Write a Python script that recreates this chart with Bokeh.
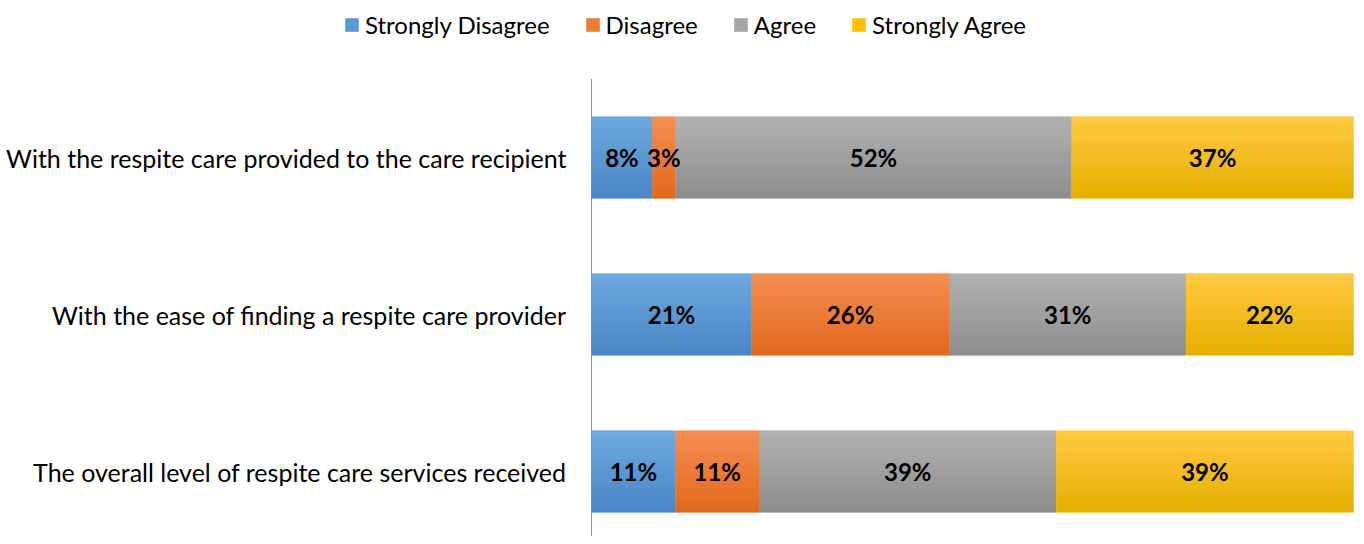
from bokeh.plotting import figure
from bokeh.models import Range1d, ColumnDataSource, Legend, LegendItem
from bokeh.transform import dodge
from bokeh.embed import file_html
from bokeh.resources import INLINE
from bokeh.core.properties import value

categories = [
    "With the respite care provided to the care recipient",
    "With the ease of finding a respite care provider",
    "The overall level of respite care services received",
]
series = ["Strongly Disagree", "Disagree", "Agree", "Strongly Agree"]
strongly_disagree = [8, 21, 11]
disagree = [3, 26, 11]
agree = [52, 31, 39]
strongly_agree = [37, 22, 39]
colors = ["#5B9BD5", "#ED7D31", "#A5A5A5", "#FFC000"]
# gradient ends (top, bottom) for each series
grad_top = ["#6DA8DF", "#F48E52", "#B0B0B0", "#FFC941"]
grad_bot = ["#4987C6", "#E2691C", "#8E8E8E", "#E5B000"]

FONT = "Lato"
BAR_H = 0.52
N_STRIPS = 14
ypos = list(range(len(categories)))

# layout: the plotting frame spans the whole figure; value axis 0..100 occupies 591..1353 px
X_START, X_END = -77.56, 100.39
Y_BOTTOM, Y_TOP = 2.414, -1.0
AXIS_TOP = -0.5


def hex2rgb(h):
    h = h.lstrip("#")
    return [int(h[i:i + 2], 16) for i in (0, 2, 4)]


def mix(a, b, t):
    ra, rb = hex2rgb(a), hex2rgb(b)
    return "#%02x%02x%02x" % tuple(round(x + (y - x) * t) for x, y in zip(ra, rb))


p = figure(width=1356, height=536, output_backend="svg", toolbar_location=None,
           x_range=Range1d(X_START, X_END), y_range=Range1d(Y_BOTTOM, Y_TOP),
           min_border=0)
p.outline_line_color = None
p.xgrid.visible = False
p.ygrid.visible = False
p.xaxis.visible = False
p.yaxis.visible = False

# category axis line at value 0
p.segment(x0=[0], x1=[0], y0=[AXIS_TOP], y1=[Y_BOTTOM], line_color="#8C8C8C", line_width=1)

# category labels (left of the axis)
csrc = ColumnDataSource(dict(x=[0] * len(categories), y=ypos, t=categories))
p.text(x="x", y="y", text="t", source=csrc, x_offset=-25, text_align="right",
       text_baseline="middle", text_font=value(FONT), text_font_size="25px", text_color="#000000")

vals = [strongly_disagree, disagree, agree, strongly_agree]
left = [0] * len(categories)
items = []
lx, ly, lt = [], [], []
strip_h = BAR_H / N_STRIPS
for k, (name, v, c) in enumerate(zip(series, vals, colors)):
    right = [a + b for a, b in zip(left, v)]
    src = ColumnDataSource(dict(y=ypos, left=left, right=right))
    r = p.hbar(y="y", left="left", right="right", height=BAR_H, source=src,
               fill_color=c, line_color=None)
    for s in range(N_STRIPS):
        off = -BAR_H / 2 + strip_h * (s + 0.5)
        p.hbar(y=dodge("y", off), left="left", right="right", height=strip_h * 1.05,
               source=src, fill_color=mix(grad_top[k], grad_bot[k], s / (N_STRIPS - 1)),
               line_color=None)
    items.append(LegendItem(label=name, renderers=[r]))
    for i in range(len(categories)):
        lx.append(left[i] + v[i] / 2)
        ly.append(ypos[i])
        lt.append(f"{v[i]}%")
    left = right

lsrc = ColumnDataSource(dict(x=lx, y=ly, t=lt))
p.text(x="x", y="y", text="t", source=lsrc, text_align="center", text_baseline="middle",
       text_font=value(FONT), text_font_style="bold", text_font_size="24px", text_color="#000000")

legend = Legend(items=items, orientation="horizontal", location=(343, 497),
                label_text_font=FONT, label_text_font_size="24px", label_text_color="#000000",
                glyph_width=17, glyph_height=17, label_standoff=5, spacing=34,
                border_line_color=None, background_fill_alpha=0,
                padding=0, margin=0)
p.add_layout(legend, "center")

open("out.html", "w").write(file_html(p, INLINE))
